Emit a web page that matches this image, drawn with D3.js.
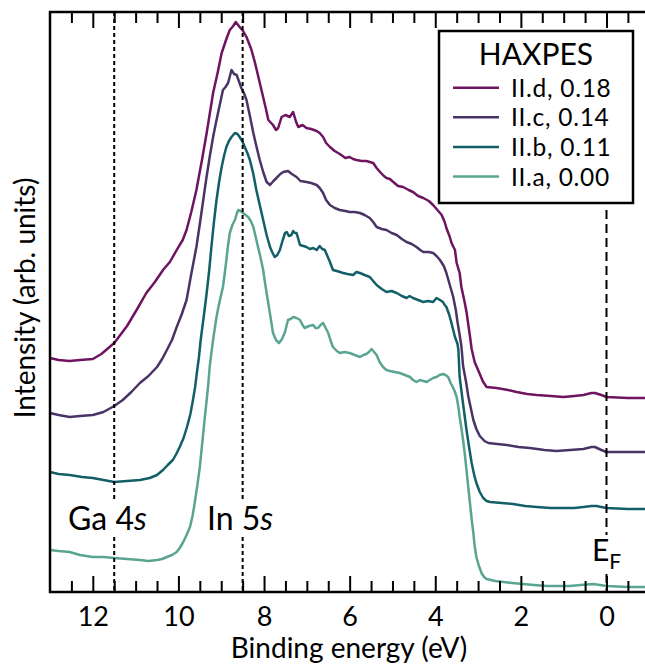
<!DOCTYPE html>
<html><head><meta charset="utf-8">
<script src="https://cdn.jsdelivr.net/npm/d3@7"></script>
<style>body{margin:0;background:#fff}svg{display:block}</style>
</head><body><svg id="chart" width="645" height="664"></svg>
<script>
// ---------- data (binding energy in eV, intensity in arb. units incl. offset) ----------
const xMajorTicks = [12, 10, 8, 6, 4, 2, 0];
const xTickLabels = ["12", "10", "8", "6", "4", "2", "0"];
const xMinorTicks = [12.5, 11.5, 11, 10.5, 9.5, 9, 8.5, 7.5, 7, 6.5, 5.5, 5, 4.5, 3.5, 3, 2.5, 1.5, 1, 0.5, -0.5];
const seriesNames = ["II.d, 0.18", "II.c, 0.14", "II.b, 0.11", "II.a, 0.00"];
const seriesColors = ["#6e1460", "#4a3466", "#135f68", "#5aa492"];
const legendTitle = "HAXPES";
const refEnergies = [11.5, 8.5];
const refLabelMain = ["Ga 4", "In 5"];
const refLabelItalic = ["s", "s"];
const fermiEnergy = 0;

const seriesIId = [[13.0,234],[12.8,232],[12.54,231],[12.3,232],[12.0,233],[11.8,238],[11.5,249],[11.2,266],[10.95,284],[10.75,299],[10.55,310],[10.36,322],[10.2,330],[10.04,342],[9.9,352],[9.81,362],[9.7,380],[9.58,402],[9.45,432],[9.34,459],[9.19,499],[9.08,520],[8.99,539],[8.88,553],[8.80,562],[8.72,566],[8.66,570],[8.57,565],[8.49,561],[8.41,555],[8.3,543],[8.21,529],[8.06,502],[7.95,482],[7.90,472],[7.79,467],[7.72,462],[7.67,464],[7.59,475],[7.5,477],[7.40,475],[7.32,480],[7.25,470],[7.20,465],[7.1,467],[7.01,464],[6.9,463],[6.77,461],[6.7,459],[6.62,455],[6.55,449],[6.46,445],[6.35,441],[6.23,438],[6.1,434],[6.00,435],[5.92,433],[5.84,432],[5.72,431],[5.61,431],[5.53,430],[5.45,429],[5.37,424],[5.29,420],[5.2,416],[5.14,414],[5.06,413],[4.98,410],[4.87,406],[4.75,405],[4.62,402],[4.52,400],[4.4,396],[4.28,394],[4.15,391],[4.05,387],[3.95,382],[3.85,377],[3.78,370],[3.74,364],[3.66,355],[3.62,349],[3.54,342],[3.50,329],[3.43,319],[3.39,305],[3.31,289],[3.27,280],[3.19,256],[3.15,243],[3.08,230],[3.00,222],[2.88,210],[2.80,205],[2.57,204],[2.3,202],[2.10,200],[1.85,198],[1.63,197],[1.3,196],[1.01,195],[0.75,196],[0.54,197],[0.35,199],[0.27,199],[0.12,197],[0.00,195],[-0.5,194],[-0.90,194]];

const seriesIIc = [[13.0,179],[12.8,177],[12.54,175],[12.3,176],[12.0,177],[11.75,180],[11.5,186],[11.30,192],[11.1,200],[10.90,209],[10.7,216],[10.50,225],[10.38,233],[10.27,242],[10.15,252],[10.04,265],[9.92,278],[9.81,292],[9.7,318],[9.58,345],[9.5,368],[9.42,392],[9.35,413],[9.27,435],[9.19,455],[9.11,472],[9.03,488],[8.96,502],[8.90,505],[8.84,509],[8.76,522],[8.70,518],[8.64,517],[8.58,510],[8.53,504],[8.47,499],[8.41,492],[8.33,476],[8.25,459],[8.18,446],[8.10,432],[8.02,420],[7.94,410],[7.86,407],[7.78,411],[7.71,414],[7.62,418],[7.55,420],[7.44,421],[7.35,418],[7.24,415],[7.15,411],[7.01,410],[6.9,409],[6.77,407],[6.7,404],[6.62,399],[6.55,392],[6.46,387],[6.35,384],[6.23,382],[6.1,381],[6.00,380],[5.88,380],[5.76,379],[5.65,377],[5.53,374],[5.45,370],[5.37,365],[5.25,363],[5.14,362],[5.02,359],[4.90,357],[4.78,353],[4.67,350],[4.55,348],[4.44,345],[4.35,342],[4.28,340],[4.15,340],[4.05,339],[3.97,336],[3.89,332],[3.80,326],[3.74,319],[3.66,307],[3.58,295],[3.52,282],[3.48,270],[3.43,257],[3.39,246],[3.35,226],[3.28,210],[3.23,196],[3.17,184],[3.11,172],[3.04,163],[2.96,156],[2.85,151],[2.76,149],[2.55,148],[2.33,147],[2.05,145],[1.79,144],[1.45,142],[1.17,141],[0.85,142],[0.54,143],[0.35,145],[0.27,145],[0.12,142],[0.00,140],[-0.5,140],[-0.90,140]];

const seriesIIb = [[13.0,120],[12.8,118],[12.54,117],[12.25,115],[12.0,114],[11.75,112],[11.5,110],[11.2,111],[10.90,112],[10.67,114],[10.5,117],[10.36,122],[10.25,127],[10.13,132],[10.05,138],[9.97,145],[9.88,154],[9.80,165],[9.72,178],[9.66,192],[9.61,205],[9.57,219],[9.52,235],[9.48,252],[9.41,275],[9.34,299],[9.28,322],[9.23,345],[9.17,370],[9.11,392],[9.05,410],[8.99,425],[8.93,437],[8.88,445],[8.82,451],[8.76,455],[8.68,459],[8.62,458],[8.57,455],[8.51,451],[8.45,445],[8.39,439],[8.33,432],[8.25,418],[8.18,402],[8.10,387],[8.02,372],[7.94,357],[7.86,345],[7.80,339],[7.75,335],[7.69,337],[7.63,342],[7.57,351],[7.51,359],[7.47,360],[7.42,356],[7.36,357],[7.32,361],[7.28,359],[7.24,359],[7.20,353],[7.16,347],[7.08,346],[7.01,345],[6.93,343],[6.85,344],[6.77,342],[6.70,346],[6.64,343],[6.58,342],[6.52,336],[6.46,330],[6.39,322],[6.30,321],[6.15,319],[6.05,318],[5.92,317],[5.84,320],[5.76,319],[5.65,317],[5.53,315],[5.45,311],[5.37,307],[5.25,303],[5.14,300],[5.02,301],[4.90,299],[4.78,296],[4.67,294],[4.60,296],[4.52,294],[4.40,292],[4.28,290],[4.17,291],[4.05,290],[3.97,294],[3.89,292],[3.82,290],[3.78,287],[3.74,285],[3.68,278],[3.64,272],[3.58,262],[3.54,255],[3.48,248],[3.46,242],[3.43,215],[3.35,188],[3.27,162],[3.21,145],[3.15,129],[3.09,117],[3.04,109],[2.96,100],[2.88,94],[2.80,91],[2.72,90],[2.45,89],[2.18,88],[1.9,86],[1.63,85],[1.3,84],[1.01,84],[0.75,84],[0.54,85],[0.35,86],[0.23,86],[0.12,85],[0.00,84],[-0.5,83],[-0.90,83]];

const seriesIIa = [[13.0,42],[12.8,41],[12.54,40],[12.3,37],[12.0,35],[11.75,35],[11.5,34],[11.2,33],[10.90,32],[10.7,31],[10.50,32],[10.38,33],[10.27,35],[10.15,37],[10.04,40],[9.97,44],[9.90,49],[9.82,56],[9.73,65],[9.67,76],[9.62,89],[9.56,106],[9.50,125],[9.46,142],[9.42,159],[9.38,176],[9.34,192],[9.30,209],[9.27,225],[9.23,239],[9.19,252],[9.15,264],[9.11,275],[9.07,284],[9.03,292],[8.96,305],[8.92,318],[8.88,332],[8.84,347],[8.80,359],[8.74,367],[8.68,372],[8.64,378],[8.60,382],[8.55,381],[8.49,379],[8.43,377],[8.37,375],[8.31,371],[8.25,365],[8.20,356],[8.14,345],[8.08,334],[8.02,322],[7.98,310],[7.94,299],[7.86,278],[7.79,259],[7.72,252],[7.65,249],[7.58,253],[7.51,260],[7.47,267],[7.44,272],[7.38,273],[7.32,275],[7.24,274],[7.16,272],[7.10,267],[7.05,264],[6.95,266],[6.85,267],[6.80,264],[6.74,264],[6.68,267],[6.62,269],[6.56,264],[6.50,259],[6.45,252],[6.39,245],[6.30,241],[6.23,239],[6.12,240],[6.00,239],[5.88,237],[5.76,235],[5.68,237],[5.61,238],[5.55,240],[5.49,243],[5.43,240],[5.37,237],[5.30,230],[5.22,225],[5.14,222],[5.06,221],[4.95,220],[4.83,219],[4.71,217],[4.59,215],[4.52,212],[4.44,210],[4.36,212],[4.28,211],[4.20,210],[4.13,212],[4.05,214],[3.97,215],[3.90,217],[3.82,218],[3.76,217],[3.70,215],[3.64,209],[3.58,204],[3.54,200],[3.50,195],[3.46,185],[3.43,175],[3.39,164],[3.35,152],[3.31,138],[3.27,122],[3.23,105],[3.19,89],[3.15,73],[3.11,59],[3.08,46],[3.04,35],[2.98,26],[2.92,19],[2.86,15],[2.80,13],[2.6,11],[2.41,10],[2.2,9],[1.95,8],[1.7,7],[1.40,6],[1.1,6],[0.86,6],[0.6,7],[0.31,8],[0.15,7],[0.00,6],[-0.5,5],[-0.90,5]];

const seriesData = [seriesIId, seriesIIc, seriesIIb, seriesIIa];

// ---------- layout ----------
const svg = d3.select("#chart");
const W = 645, H = 664;
const M = {left: 50, top: 12, bottom: 592};
const x = d3.scaleLinear().domain([13, -1]).range([50, 649.3]);
const y = d3.scaleLinear().domain([0, 580]).range([592, 12]);
const FONT = "Lato, 'Open Sans', sans-serif";

svg.append("rect").attr("width", W).attr("height", H).attr("fill", "#fff");

// curves
const line = d3.line().x(d => x(d[0])).y(d => y(d[1])).curve(d3.curveLinear);
const curveG = svg.append("g");
seriesData.slice().reverse().forEach((s, i) => {
  const idx = seriesData.length - 1 - i;
  curveG.append("path").datum(s).attr("d", line)
    .attr("fill", "none").attr("stroke", seriesColors[idx])
    .attr("stroke-width", 2.5).attr("stroke-linejoin", "round");
});

// reference dotted lines
refEnergies.forEach(e => {
  svg.append("line").attr("x1", x(e)).attr("x2", x(e))
    .attr("y1", y(580)).attr("y2", y(0))
    .attr("stroke", "#000").attr("stroke-width", 2).attr("stroke-dasharray", "4,3");
});
// Fermi dashed line
svg.append("line").attr("x1", x(fermiEnergy)).attr("x2", x(fermiEnergy))
  .attr("y1", y(382)).attr("y2", y(0))
  .attr("stroke", "#000").attr("stroke-width", 2).attr("stroke-dasharray", "9,5");

// reference labels with white backgrounds
const labelPos = [[68, 530], [207, 530]];
refEnergies.forEach((e, i) => {
  const g = svg.append("g");
  const t = g.append("text").attr("x", labelPos[i][0]).attr("y", labelPos[i][1])
    .attr("font-family", FONT).attr("font-size", 32).attr("fill", "#000");
  t.append("tspan").text(refLabelMain[i]);
  t.append("tspan").attr("font-style", "italic").text(refLabelItalic[i]);
  const bb = t.node().getBBox();
  g.insert("rect", "text").attr("x", bb.x - 1).attr("y", bb.y + 3)
    .attr("width", bb.width + 2).attr("height", bb.height - 5).attr("fill", "#fff");
});
// E_F label
{
  const g = svg.append("g");
  const t = g.append("text").attr("x", 592).attr("y", 561)
    .attr("font-family", FONT).attr("font-size", 30).attr("fill", "#000");
  t.append("tspan").text("E");
  t.append("tspan").attr("font-size", 21).attr("dy", 8).text("F");
  const bb = t.node().getBBox();
  g.insert("rect", "text").attr("x", bb.x).attr("y", bb.y + 4)
    .attr("width", bb.width).attr("height", bb.height - 4).attr("fill", "#fff");
}

// axes: bottom
const axB = svg.append("g").attr("transform", `translate(0,${M.bottom})`);
axB.call(d3.axisBottom(x).tickValues(xMinorTicks).tickSize(-11).tickFormat(""));
const axBM = svg.append("g").attr("transform", `translate(0,${M.bottom})`);
axBM.call(d3.axisBottom(x).tickValues(xMajorTicks).tickSize(-16)
  .tickFormat((d, i) => xTickLabels[i]));
[axB, axBM].forEach(g => {
  g.select(".domain").remove();
  g.selectAll(".tick line").attr("stroke", "#000").attr("stroke-width", 2);
});
axBM.selectAll(".tick text").attr("y", 34).attr("dy", 0)
  .attr("font-family", FONT).attr("font-size", 27).attr("fill", "#000");

// top
const axT = svg.append("g").attr("transform", `translate(0,${M.top})`);
axT.call(d3.axisTop(x).tickValues(xMinorTicks).tickSize(-11).tickFormat(""));
const axTM = svg.append("g").attr("transform", `translate(0,${M.top})`);
axTM.call(d3.axisTop(x).tickValues(xMajorTicks).tickSize(-16).tickFormat(""));
[axT, axTM].forEach(g => {
  g.select(".domain").remove();
  g.selectAll(".tick line").attr("stroke", "#000").attr("stroke-width", 2);
});

// frame
svg.append("rect").attr("x", x(13)).attr("y", y(580))
  .attr("width", x(-1) - x(13)).attr("height", y(0) - y(580))
  .attr("fill", "none").attr("stroke", "#000").attr("stroke-width", 2.5);

// axis titles
svg.append("text").attr("x", 349).attr("y", 658).attr("text-anchor", "middle")
  .attr("font-family", FONT).attr("font-size", 28).attr("fill", "#000")
  .text("Binding energy (eV)");
svg.append("text").attr("transform", "translate(35,298) rotate(-90)")
  .attr("text-anchor", "middle")
  .attr("font-family", FONT).attr("font-size", 28).attr("fill", "#000")
  .text("Intensity (arb. units)");

// legend
const lg = svg.append("g");
lg.append("rect").attr("x", 439).attr("y", 31).attr("width", 194).attr("height", 172)
  .attr("fill", "#fff").attr("stroke", "#000").attr("stroke-width", 2.5);
lg.append("text").attr("x", 536).attr("y", 65).attr("text-anchor", "middle")
  .attr("font-family", FONT).attr("font-size", 30).attr("fill", "#000").text(legendTitle);
seriesNames.forEach((n, i) => {
  const ly = 87.7 + i * 29.6;
  lg.append("line").attr("x1", 453).attr("x2", 499).attr("y1", ly).attr("y2", ly)
    .attr("stroke", seriesColors[i]).attr("stroke-width", 2.5);
  lg.append("text").attr("x", 511).attr("y", ly + 9).attr("font-family", FONT)
    .attr("font-size", 24.5).attr("letter-spacing", 0.7).attr("fill", "#000").text(n);
});
</script></body></html>
